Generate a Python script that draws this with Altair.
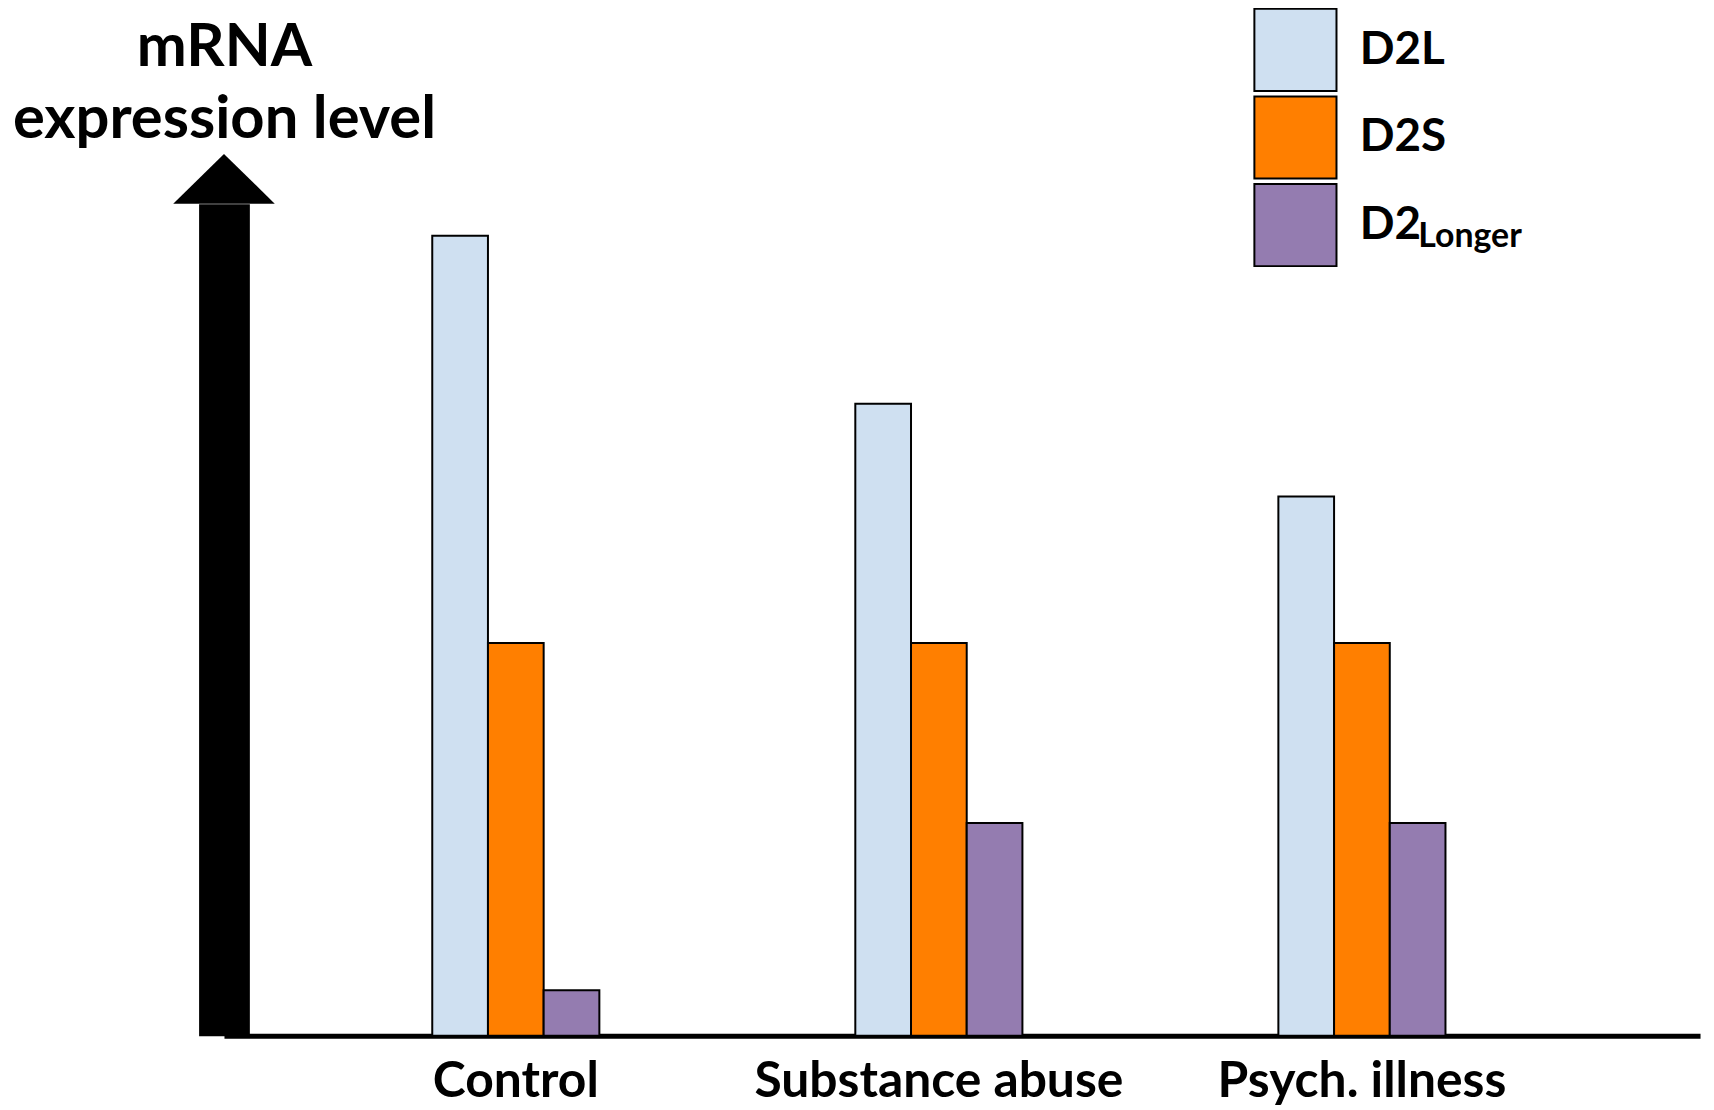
import altair as alt
import pandas as pd

groups = ["Control", "Substance abuse", "Psych. illness"]
isoforms = ["D2L", "D2S", "D2Longer"]
d2l = [100.0, 79.0, 67.4]
d2s = [49.1, 49.1, 49.1]
d2longer = [5.7, 26.6, 26.6]
colors = ["#CFE0F1", "#FF7F00", "#947CB0"]

rows = []
for i, g in enumerate(groups):
    for iso, vals in zip(isoforms, [d2l, d2s, d2longer]):
        rows.append({"group": g, "isoform": iso, "value": vals[i]})
df = pd.DataFrame(rows)

FONT = "Lato"

bars = alt.Chart(df).mark_bar(stroke="black", strokeWidth=2, opacity=1).encode(
    x=alt.X(
        "group:N",
        sort=groups,
        scale=alt.Scale(paddingInner=0.605, paddingOuter=0.547, align=0.45, round=False),
        axis=alt.Axis(
            title=None, labelAngle=0, ticks=False, grid=False,
            domainColor="black", domainWidth=5,
            labelFont=FONT, labelFontWeight="bold", labelFontSize=50,
            labelColor="black", labelPadding=21, labelLimit=600,
        ),
    ),
    xOffset=alt.XOffset("isoform:N", sort=isoforms, scale=alt.Scale(paddingInner=0, paddingOuter=0)),
    y=alt.Y(
        "value:Q",
        scale=alt.Scale(domain=[0, 104], nice=False),
        axis=alt.Axis(
            title=["mRNA", "expression level"], titleAngle=0, titleX=0, titleY=-157,
            titleAlign="center", titleBaseline="middle", titleLineHeight=73,
            titleFont=FONT, titleFontWeight="bold", titleFontSize=60, titleColor="black",
            labels=False, ticks=False, grid=False,
            domainColor="black", domainWidth=51,
        ),
    ),
    color=alt.Color(
        "isoform:N",
        sort=isoforms,
        scale=alt.Scale(domain=isoforms, range=colors),
        legend=alt.Legend(
            title=None, orient="none", legendX=1034, legendY=-197,
            symbolType="square", symbolSize=6806, symbolStrokeColor="black",
            symbolStrokeWidth=2, symbolOpacity=1, rowPadding=-20, padding=0,
            labelFont=FONT, labelFontWeight="bold", labelFontSize=46,
            labelColor="black", labelOffset=22, labelLimit=400, labelBaseline="middle",
            labelExpr="datum.label == 'D2Longer' ? 'D2' : datum.label",
        ),
    ),
)

anno = pd.DataFrame({"t": ["Longer"]})
head = alt.Chart(anno).mark_point(
    shape="M-1,0L1,0L0,-0.98Z", filled=True, color="black", opacity=1, size=10404, strokeWidth=0
).encode(x=alt.value(0), y=alt.value(0))

sub = alt.Chart(anno).mark_text(
    font=FONT, fontWeight="bold", fontSize=34, color="black", align="left", baseline="alphabetic"
).encode(text="t:N", x=alt.value(1200), y=alt.value(44))

chart = alt.layer(bars, head, sub).properties(
    width=1483, height=836,
    autosize=alt.AutoSizeParams(type="none"),
    padding={"left": 217, "top": 194, "right": 6, "bottom": 72},
).configure_view(strokeWidth=0)

chart.save("out.html", embed_options={"renderer": "svg", "actions": False})
